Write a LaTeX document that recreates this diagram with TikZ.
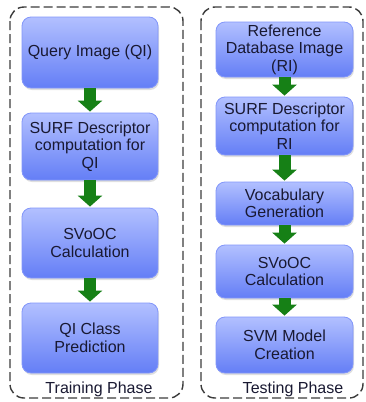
\documentclass[tikz,border=0pt]{standalone}
\usepackage{fontspec}
\setmainfont{Liberation Sans}
\usetikzlibrary{arrows.meta,shadows}
\definecolor{boxtop}{RGB}{178,192,255}
\definecolor{boxmid}{RGB}{140,160,255}
\definecolor{boxbot}{RGB}{100,126,246}
\definecolor{boxedge}{RGB}{130,150,250}
\definecolor{textcol}{RGB}{25,25,50}
\definecolor{arrowgreen}{RGB}{22,128,22}
\definecolor{framecol}{RGB}{60,60,60}
\begin{document}
\begin{tikzpicture}[x=1pt,y=-1pt,
  procbox/.style={rounded corners=9pt, draw=boxedge, line width=0.8pt,
    top color=boxtop, middle color=boxmid, bottom color=boxbot,
    minimum width=136pt, inner sep=0pt, align=center,
    font=\fontsize{16}{17.5}\selectfont, text=textcol,
    drop shadow={opacity=0.25, shadow xshift=1pt, shadow yshift=-2pt}},
  flowarrow/.style={-{Triangle[width=24pt,length=11pt]}, line width=12pt,
    draw=arrowgreen, shorten >=1pt},
  phasebox/.style={draw=framecol, line width=1.4pt, dash pattern=on 9pt off 4pt,
    rounded corners=14pt},
  phaselabel/.style={font=\fontsize{16}{17.5}\selectfont, text=textcol, inner sep=0pt}
]
\useasboundingbox (0,0) rectangle (366,402);
\fill[white] (0,0) rectangle (366,402);

% frames
\draw[phasebox] (10,7) rectangle (183,398);
\draw[phasebox] (201,7) rectangle (363,398);

% left column
\node[procbox, minimum height=71pt] (L1) at (90,52.5) {Query Image (QI)};
\node[procbox, minimum height=67pt] (L2) at (90,146.5) {SURF Descriptor\\computation for\\QI};
\node[procbox, minimum height=70pt] (L3) at (90,243) {SVoOC\\Calculation};
\node[procbox, minimum height=70pt] (L4) at (90,338) {QI Class\\Prediction};

% right column
\node[procbox, minimum width=137pt, minimum height=55pt] (R1) at (284.5,49.5) {Reference\\Database Image\\(RI)};
\node[procbox, minimum width=137pt, minimum height=58pt] (R2) at (284.5,126) {SURF Descriptor\\computation for\\RI};
\node[procbox, minimum width=137pt, minimum height=43pt] (R3) at (284.5,203.5) {Vocabulary\\Generation};
\node[procbox, minimum width=137pt, minimum height=53pt] (R4) at (284.5,271.5) {SVoOC\\Calculation};
\node[procbox, minimum width=137pt, minimum height=56pt] (R5) at (284.5,345) {SVM Model\\Creation};

% arrows
\draw[flowarrow] (L1.south) -- (L2.north);
\draw[flowarrow] (L2.south) -- (L3.north);
\draw[flowarrow] (L3.south) -- (L4.north);
\draw[flowarrow] (R1.south) -- (R2.north);
\draw[flowarrow] (R2.south) -- (R3.north);
\draw[flowarrow] (R3.south) -- (R4.north);
\draw[flowarrow] (R4.south) -- (R5.north);

% labels
\node[phaselabel] (TP) at (99,389) {Training Phase};
\node[phaselabel] (SP) at (293,389) {Testing Phase};
\end{tikzpicture}
\end{document}
